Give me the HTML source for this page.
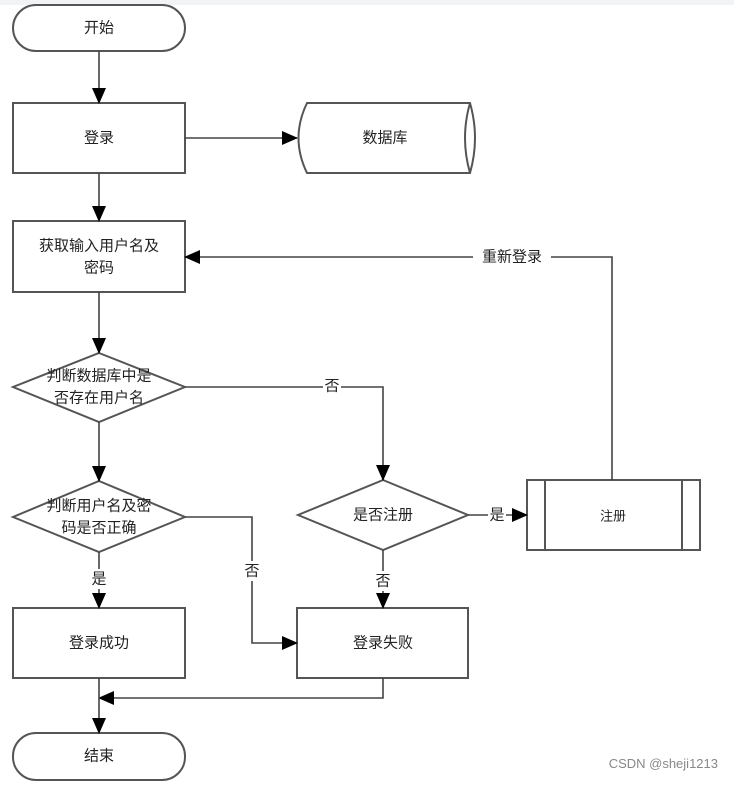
<!DOCTYPE html>
<html><head><meta charset="utf-8"><style>
html,body{margin:0;padding:0;background:#fff;width:734px;height:787px;overflow:hidden}
svg{display:block}
text{font-family:"Liberation Sans","Noto Sans CJK SC",sans-serif;font-size:15px;fill:#222}
</style></head><body>
<svg width="734" height="787" viewBox="0 0 734 787" xmlns="http://www.w3.org/2000/svg">
<defs><marker id="a" markerWidth="10" markerHeight="10" refX="9" refY="5" orient="auto" markerUnits="userSpaceOnUse"><path d="M0,0 L10,5 L0,10 z" fill="#000"/></marker>
<marker id="b" markerWidth="16" markerHeight="14" refX="15" refY="7" orient="auto" markerUnits="userSpaceOnUse"><path d="M0,0 L16,7 L0,14 z" fill="#000"/></marker></defs>
<rect x="0" y="0" width="734" height="5" fill="#f2f3f5"/>
<g fill="#fff" stroke="#555" stroke-width="2">
<rect x="13" y="5" width="172" height="46" rx="23"/>
<rect x="13" y="103" width="172" height="70"/>
<path d="M307,103 H470 Q480,138 470,173 H307 Q290,138 307,103 Z"/>
<path d="M470,103 Q460,138 470,173"/>
<rect x="13" y="221" width="172" height="71"/>
<path d="M99,353 L185,387 L99,422 L13,387 Z"/>
<path d="M99,481 L185,517 L99,552 L13,517 Z"/>
<path d="M383,480 L468,515 L383,550 L298,515 Z"/>
<rect x="527" y="480" width="173" height="70"/>
<path d="M545,480 V550 M682,480 V550"/>
<rect x="13" y="608" width="172" height="70"/>
<rect x="297" y="608" width="171" height="70"/>
<rect x="13" y="733" width="172" height="47" rx="23"/>
</g>
<g fill="none" stroke="#444" stroke-width="1.6">
<path d="M99,51 V103" marker-end="url(#b)"/>
<path d="M185,138 H297" marker-end="url(#b)"/>
<path d="M99,173 V221" marker-end="url(#b)"/>
<path d="M612,480 V257 H185" marker-end="url(#b)"/>
<path d="M99,292 V353" marker-end="url(#b)"/>
<path d="M185,387 H383 V480" marker-end="url(#b)"/>
<path d="M99,422 V481" marker-end="url(#b)"/>
<path d="M468,515 H527" marker-end="url(#b)"/>
<path d="M185,517 H252 V643 H297" marker-end="url(#b)"/>
<path d="M383,550 V608" marker-end="url(#b)"/>
<path d="M99,552 V608" marker-end="url(#b)"/>
<path d="M383,678 V698 H99" marker-end="url(#b)"/>
<path d="M99,678 V733" marker-end="url(#b)"/>
</g>
<g fill="#fff">
<rect x="473" y="248" width="78" height="18"/>
<rect x="323" y="377" width="18" height="18"/>
<rect x="488" y="505" width="18" height="20"/>
<rect x="243" y="561" width="18" height="20"/>
<rect x="374" y="571" width="18" height="20"/>
<rect x="90" y="569" width="18" height="20"/>
</g>
<g text-anchor="middle" dominant-baseline="central">
<text x="99" y="28">开始</text>
<text x="99" y="138">登录</text>
<text x="385" y="138">数据库</text>
<text x="99" y="246">获取输入用户名及</text>
<text x="99" y="268">密码</text>
<text x="99" y="376">判断数据库中是</text>
<text x="99" y="398">否存在用户名</text>
<text x="99" y="506">判断用户名及密</text>
<text x="99" y="528">码是否正确</text>
<text x="383" y="515">是否注册</text>
<text x="613" y="516" style="font-size:13px">注册</text>
<text x="99" y="643">登录成功</text>
<text x="383" y="643">登录失败</text>
<text x="99" y="756">结束</text>
<text x="512" y="257">重新登录</text>
<text x="332" y="386">否</text>
<text x="497" y="515">是</text>
<text x="252" y="571">否</text>
<text x="383" y="581">否</text>
<text x="99" y="579">是</text>
</g>
<text x="718" y="768" text-anchor="end" style="font-size:13px;fill:#888">CSDN @sheji1213</text>
</svg>
</body></html>
